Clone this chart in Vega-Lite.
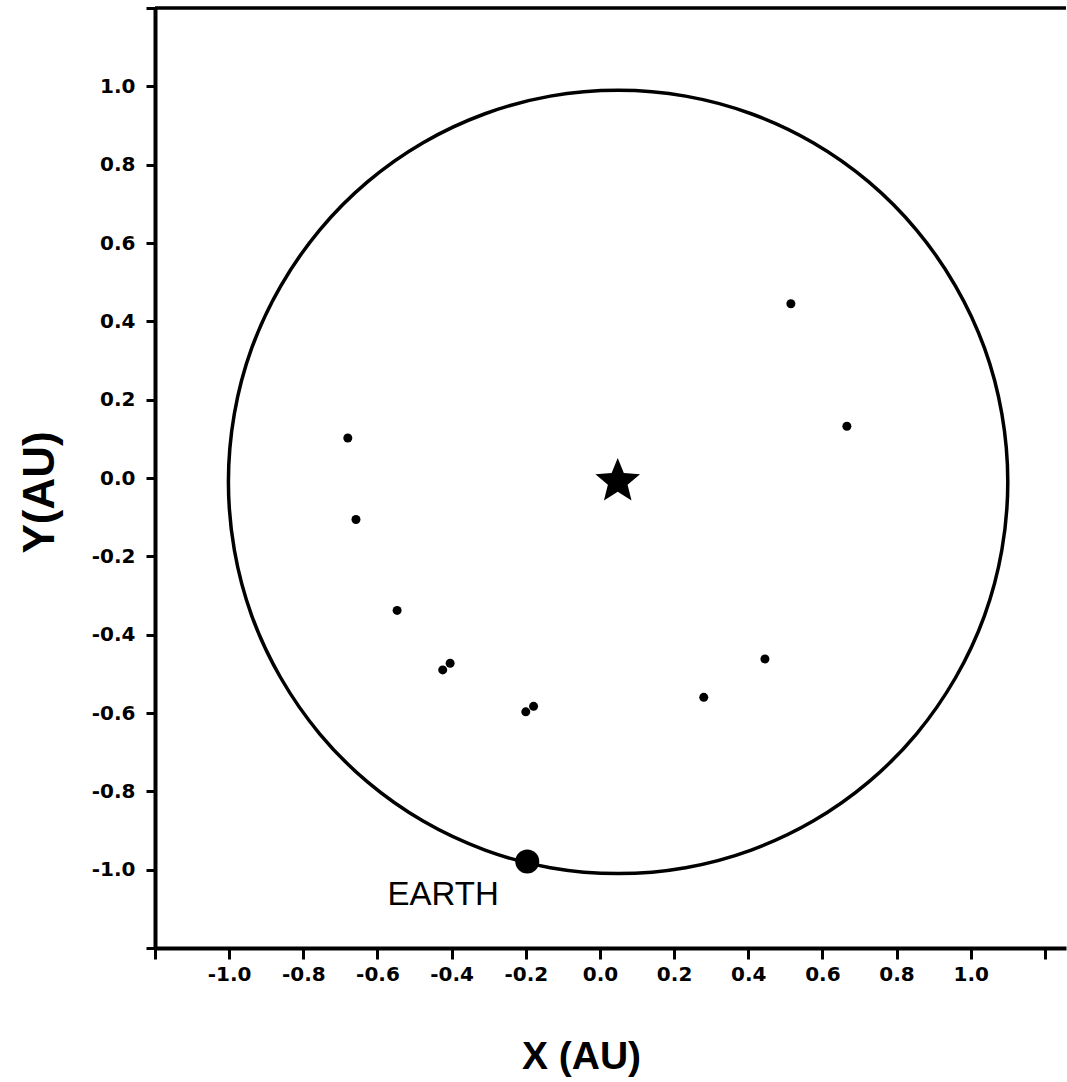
{
  "$schema": "https://vega.github.io/schema/vega-lite/v6.json",
  "autosize": {"type": "none"},
  "padding": {"left": 155, "top": 8, "right": 1, "bottom": 134},
  "width": 911,
  "height": 940,
  "background": "white",
  "config": {
    "view": {"stroke": null},
    "font": "Liberation Sans"
  },
  "datasets": {
    "orbit": [
      {"i": 0, "x": 1.100, "y": -0.010},
      {"i": 1, "x": 1.084, "y": 0.164},
      {"i": 2, "x": 1.037, "y": 0.332},
      {"i": 3, "x": 0.959, "y": 0.490},
      {"i": 4, "x": 0.854, "y": 0.633},
      {"i": 5, "x": 0.725, "y": 0.756},
      {"i": 6, "x": 0.575, "y": 0.856},
      {"i": 7, "x": 0.408, "y": 0.930},
      {"i": 8, "x": 0.231, "y": 0.975},
      {"i": 9, "x": 0.049, "y": 0.990},
      {"i": 10, "x": -0.134, "y": 0.975},
      {"i": 11, "x": -0.310, "y": 0.930},
      {"i": 12, "x": -0.477, "y": 0.856},
      {"i": 13, "x": -0.627, "y": 0.756},
      {"i": 14, "x": -0.756, "y": 0.633},
      {"i": 15, "x": -0.861, "y": 0.490},
      {"i": 16, "x": -0.939, "y": 0.332},
      {"i": 17, "x": -0.986, "y": 0.164},
      {"i": 18, "x": -1.002, "y": -0.010},
      {"i": 19, "x": -0.986, "y": -0.184},
      {"i": 20, "x": -0.939, "y": -0.352},
      {"i": 21, "x": -0.861, "y": -0.510},
      {"i": 22, "x": -0.756, "y": -0.653},
      {"i": 23, "x": -0.627, "y": -0.776},
      {"i": 24, "x": -0.477, "y": -0.876},
      {"i": 25, "x": -0.310, "y": -0.950},
      {"i": 26, "x": -0.134, "y": -0.995},
      {"i": 27, "x": 0.049, "y": -1.010},
      {"i": 28, "x": 0.231, "y": -0.995},
      {"i": 29, "x": 0.408, "y": -0.950},
      {"i": 30, "x": 0.575, "y": -0.876},
      {"i": 31, "x": 0.725, "y": -0.776},
      {"i": 32, "x": 0.854, "y": -0.653},
      {"i": 33, "x": 0.959, "y": -0.510},
      {"i": 34, "x": 1.037, "y": -0.352},
      {"i": 35, "x": 1.084, "y": -0.184}
    ],
    "objects": [
      {"x": 0.515, "y": 0.445},
      {"x": 0.666, "y": 0.132},
      {"x": -0.680, "y": 0.102},
      {"x": -0.658, "y": -0.106},
      {"x": -0.547, "y": -0.338},
      {"x": -0.424, "y": -0.490},
      {"x": -0.404, "y": -0.473},
      {"x": -0.200, "y": -0.597},
      {"x": -0.179, "y": -0.583},
      {"x": 0.280, "y": -0.560},
      {"x": 0.445, "y": -0.462}
    ],
    "earth": [{"x": -0.196, "y": -0.979, "label": "EARTH", "lx": -0.423, "ly": -1.064}],
    "sun": [{"x": 0.048, "y": -0.009}]
  },
  "layer": [
    {
      "data": {"name": "orbit"},
      "mark": {"type": "line", "interpolate": "cardinal-closed", "color": "black", "strokeWidth": 3.5},
      "encoding": {
        "x": {
          "field": "x", "type": "quantitative",
          "scale": {"domain": [-1.2, 1.257], "nice": false, "zero": false},
          "axis": {
            "title": "X (AU)",
            "values": [-1.2, -1.1, -1.0, -0.9, -0.8, -0.7, -0.6, -0.5, -0.4, -0.3, -0.2, -0.1, 0, 0.1, 0.2, 0.3, 0.4, 0.5, 0.6, 0.7, 0.8, 0.9, 1.0, 1.1, 1.2],
            "labelExpr": "abs(datum.value) > 1.05 || abs(round(datum.value*10)) % 2 == 1 ? '' : replace(format(datum.value, '.1f'), '\u2212', '-')",
            "grid": false,
            "domainColor": "black", "domainWidth": 4,
            "tickColor": "black", "tickWidth": 3,
            "tickSize": {"condition": {"test": "abs(round(datum.value*10)) % 2 == 1", "value": 6}, "value": 11},
            "labelFont": "DejaVu Sans", "labelFontWeight": "bold", "labelFontSize": 20, "labelColor": "black",
            "labelPadding": 5, "labelOverlap": false, "labelFlush": false,
            "titleFont": "Liberation Sans", "titleFontWeight": "bold", "titleFontSize": 39, "titleColor": "black",
            "titleX": 426, "titleY": 120, "titleBaseline": "alphabetic", "titleAlign": "center"
          }
        },
        "y": {
          "field": "y", "type": "quantitative",
          "scale": {"domain": [-1.2, 1.2], "nice": false, "zero": false},
          "axis": {
            "title": "Y(AU)",
            "values": [-1.2, -1.1, -1.0, -0.9, -0.8, -0.7, -0.6, -0.5, -0.4, -0.3, -0.2, -0.1, 0, 0.1, 0.2, 0.3, 0.4, 0.5, 0.6, 0.7, 0.8, 0.9, 1.0, 1.1, 1.2],
            "labelExpr": "abs(datum.value) > 1.05 || abs(round(datum.value*10)) % 2 == 1 ? '' : replace(format(datum.value, '.1f'), '\u2212', '-')",
            "grid": false,
            "domainColor": "black", "domainWidth": 4,
            "tickColor": "black", "tickWidth": 3,
            "tickSize": {"condition": {"test": "abs(round(datum.value*10)) % 2 == 1", "value": 5}, "value": 9},
            "labelFont": "DejaVu Sans", "labelFontWeight": "bold", "labelFontSize": 20, "labelColor": "black",
            "labelPadding": 11, "labelOverlap": false, "labelFlush": false,
            "titleFont": "Liberation Sans", "titleFontWeight": "bold", "titleFontSize": 44, "titleColor": "black",
            "titleAngle": -90, "titleX": -102, "titleY": 484, "titleBaseline": "alphabetic", "titleAlign": "center"
          }
        },
        "order": {"field": "i", "type": "quantitative"}
      }
    },
    {
      "data": {"name": "objects"},
      "mark": {"type": "point", "shape": "circle", "filled": true, "color": "black", "size": 81, "opacity": 1},
      "encoding": {
        "x": {"field": "x", "type": "quantitative"},
        "y": {"field": "y", "type": "quantitative"}
      }
    },
    {
      "data": {"name": "earth"},
      "mark": {"type": "point", "shape": "circle", "filled": true, "color": "black", "size": 576, "opacity": 1},
      "encoding": {
        "x": {"field": "x", "type": "quantitative"},
        "y": {"field": "y", "type": "quantitative"}
      }
    },
    {
      "data": {"name": "earth"},
      "mark": {"type": "text", "font": "Liberation Sans", "fontSize": 33, "color": "black", "align": "center", "baseline": "middle"},
      "encoding": {
        "x": {"field": "lx", "type": "quantitative"},
        "y": {"field": "ly", "type": "quantitative"},
        "text": {"field": "label"}
      }
    },
    {
      "data": {"name": "sun"},
      "mark": {"type": "point", "shape": "M0,-1L0.26,-0.36L0.951,-0.309L0.42,0.14L0.588,0.809L0,0.44L-0.588,0.809L-0.42,0.14L-0.951,-0.309L-0.26,-0.36Z", "filled": true, "color": "black", "size": 2200, "opacity": 1},
      "encoding": {
        "x": {"field": "x", "type": "quantitative"},
        "y": {"field": "y", "type": "quantitative"}
      }
    },
    {
      "data": {"values": [{"top": 1.2}]},
      "mark": {"type": "rule", "color": "black", "strokeWidth": 3.5},
      "encoding": {
        "y": {"field": "top", "type": "quantitative"}
      }
    }
  ]
}
